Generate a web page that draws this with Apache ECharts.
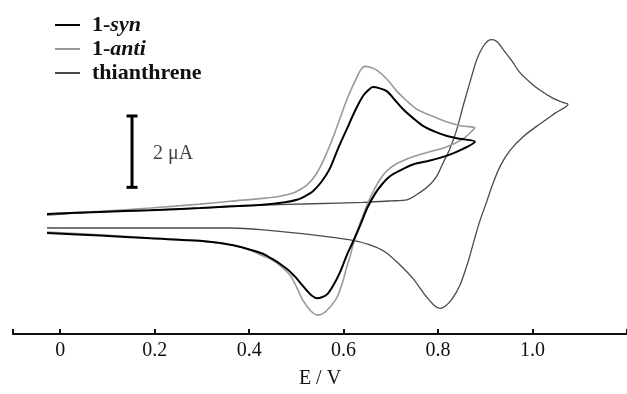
<!DOCTYPE html>
<html>
<head>
<meta charset="utf-8">
<script src="https://cdn.jsdelivr.net/npm/echarts@6/dist/echarts.min.js"></script>
<style>
html,body{margin:0;padding:0;background:#fff;}
#chart{width:627px;height:394px;}
</style>
</head>
<body>
<div id="chart"></div>
<script>
// Potential E (V) and current I (µA), forward scan then reverse scan
const synE = [-0.028,0.084,0.191,0.296,0.360,0.429,0.476,0.501,0.518,0.535,0.554,0.571,0.588,0.607,0.624,0.641,0.652,0.662,0.675,0.692,0.709,0.726,0.747,0.768,0.793,0.819,0.846,0.878,
  0.853,0.819,0.783,0.747,0.719,0.698,0.681,0.666,0.650,0.637,0.628,0.618,0.607,0.592,0.578,0.565,0.554,0.544,0.533,0.522,0.511,0.501,0.484,0.465,0.448,0.429,0.395,0.360,0.296,0.191,0.084,-0.028];
const synI = [0.00,0.06,0.11,0.17,0.22,0.26,0.33,0.40,0.50,0.64,0.92,1.28,1.83,2.39,2.89,3.31,3.47,3.56,3.53,3.44,3.19,2.94,2.69,2.47,2.31,2.19,2.11,2.03,
  1.83,1.64,1.50,1.39,1.22,1.06,0.83,0.56,0.17,-0.25,-0.53,-0.83,-1.14,-1.64,-2.00,-2.25,-2.33,-2.36,-2.29,-2.14,-1.97,-1.81,-1.58,-1.39,-1.25,-1.11,-0.97,-0.86,-0.75,-0.68,-0.60,-0.53];

const antiE = [-0.028,0.084,0.191,0.296,0.360,0.429,0.465,0.497,0.522,0.540,0.556,0.575,0.592,0.609,0.629,0.637,0.645,0.658,0.671,0.692,0.713,0.734,0.755,0.787,0.819,0.851,0.878,
  0.874,0.853,0.819,0.783,0.747,0.713,0.692,0.677,0.665,0.652,0.639,0.629,0.620,0.614,0.605,0.599,0.586,0.571,0.556,0.544,0.529,0.514,0.501,0.487,0.465,0.448,0.429,0.395,0.360,0.296,0.191,0.084,-0.028];
const antiI = [0.00,0.08,0.17,0.28,0.36,0.44,0.50,0.61,0.81,1.08,1.47,2.06,2.67,3.28,3.86,4.06,4.14,4.11,4.03,3.78,3.44,3.17,2.94,2.75,2.58,2.47,2.42,
  2.36,2.11,1.89,1.75,1.61,1.42,1.22,0.97,0.69,0.33,-0.11,-0.47,-0.86,-1.17,-1.56,-1.86,-2.33,-2.61,-2.79,-2.83,-2.69,-2.42,-2.06,-1.72,-1.44,-1.28,-1.17,-0.97,-0.86,-0.75,-0.67,-0.58,-0.50];

const thE = [-0.028,0.084,0.191,0.296,0.429,0.535,0.641,0.700,0.734,0.762,0.783,0.798,0.810,0.825,0.840,0.853,0.868,0.882,0.895,0.906,0.914,0.925,0.938,0.957,0.973,0.995,1.016,1.043,1.062,1.075,
  1.048,1.016,0.980,0.952,0.931,0.914,0.902,0.889,0.876,0.863,0.846,0.829,0.815,0.804,0.792,0.773,0.747,0.719,0.688,0.656,0.614,0.535,0.429,0.360,0.191,-0.028];
const thI = [-0.03,0.06,0.11,0.17,0.25,0.29,0.33,0.37,0.40,0.61,0.83,1.08,1.42,1.83,2.39,3.03,3.72,4.33,4.69,4.86,4.89,4.83,4.61,4.28,3.97,3.69,3.47,3.25,3.14,3.08,
  2.83,2.53,2.17,1.78,1.33,0.78,0.31,-0.17,-0.75,-1.36,-2.00,-2.39,-2.58,-2.64,-2.56,-2.28,-1.81,-1.42,-1.06,-0.86,-0.72,-0.58,-0.44,-0.39,-0.39,-0.39];

const xTicks = [-0.1,0,0.2,0.4,0.6,0.8,1.0,1.2];
const xLabels = [0,0.2,0.4,0.6,0.8,1.0];
const scaleBarE = 0.152;
const scaleBarI = [0.75,2.75];
const scaleBarText = '2 μA';

const zip = (a,b) => a.map((v,i) => [v,b[i]]);
const serif = '"Liberation Serif","Times New Roman",serif';

const chart = echarts.init(document.getElementById('chart'), null, {renderer:'canvas'});
chart.setOption({
  animation:false,
  backgroundColor:'#fff',
  grid:{left:13,right:0,top:0,bottom:57},
  xAxis:{
    type:'value',min:-0.1,max:1.2,
    name:'E / V',nameLocation:'middle',nameGap:35,
    nameTextStyle:{fontFamily:serif,fontSize:20,color:'#111'},
    axisLine:{onZero:false,lineStyle:{color:'#111',width:2}},
    axisTick:{inside:true,length:5,lineStyle:{color:'#111',width:2},customValues:xTicks},
    axisLabel:{customValues:xLabels,margin:7,fontFamily:serif,fontSize:20,color:'#111',
      formatter:v => v===0 ? '0' : v.toFixed(1)},
    splitLine:{show:false}
  },
  yAxis:{type:'value',min:-3.36,max:6,show:false,splitLine:{show:false}},
  legend:{
    orient:'vertical',left:50,top:8.5,itemWidth:25,itemHeight:2,itemGap:1,icon:'rect',
    data:['1-syn','1-anti','thianthrene'],
    formatter:name => {
      if(name==='1-syn') return '{b|1-}{bi|syn}';
      if(name==='1-anti') return '{b|1-}{bi|anti}';
      return '{b|thianthrene}';
    },
    textStyle:{fontFamily:serif,fontSize:22,color:'#111',padding:[0,0,0,7],lineHeight:23,
      rich:{
        b:{fontFamily:serif,fontSize:22,fontWeight:'bold',color:'#111',lineHeight:23},
        bi:{fontFamily:serif,fontSize:22,fontWeight:'bold',fontStyle:'italic',color:'#111',lineHeight:23}
      }}
  },
  series:[
    {name:'thianthrene',type:'line',data:zip(thE,thI),smooth:0.3,showSymbol:false,
      lineStyle:{color:'#4a4a4a',width:1.3},itemStyle:{color:'#4a4a4a'},z:2},
    {name:'1-anti',type:'line',data:zip(antiE,antiI),smooth:0.3,showSymbol:false,
      lineStyle:{color:'#9a9a9a',width:1.6},itemStyle:{color:'#9a9a9a'},z:3},
    {name:'1-syn',type:'line',data:zip(synE,synI),smooth:0.3,showSymbol:false,
      lineStyle:{color:'#000',width:2},itemStyle:{color:'#000'},z:4},
    {name:'scalebar',type:'line',data:scaleBarI.map(v=>[scaleBarE,v]),
      symbol:'rect',symbolSize:[11,3],showSymbol:true,
      lineStyle:{color:'#000',width:3},itemStyle:{color:'#000'},z:5,silent:true},
    {name:'scalebarLabel',type:'scatter',
      data:[[scaleBarE,(scaleBarI[0]+scaleBarI[1])/2]],symbolSize:0,
      label:{show:true,position:'right',distance:21,offset:[0,2],formatter:scaleBarText,
        fontFamily:serif,fontSize:20,color:'#111'},silent:true}
  ]
});
</script>
</body>
</html>
